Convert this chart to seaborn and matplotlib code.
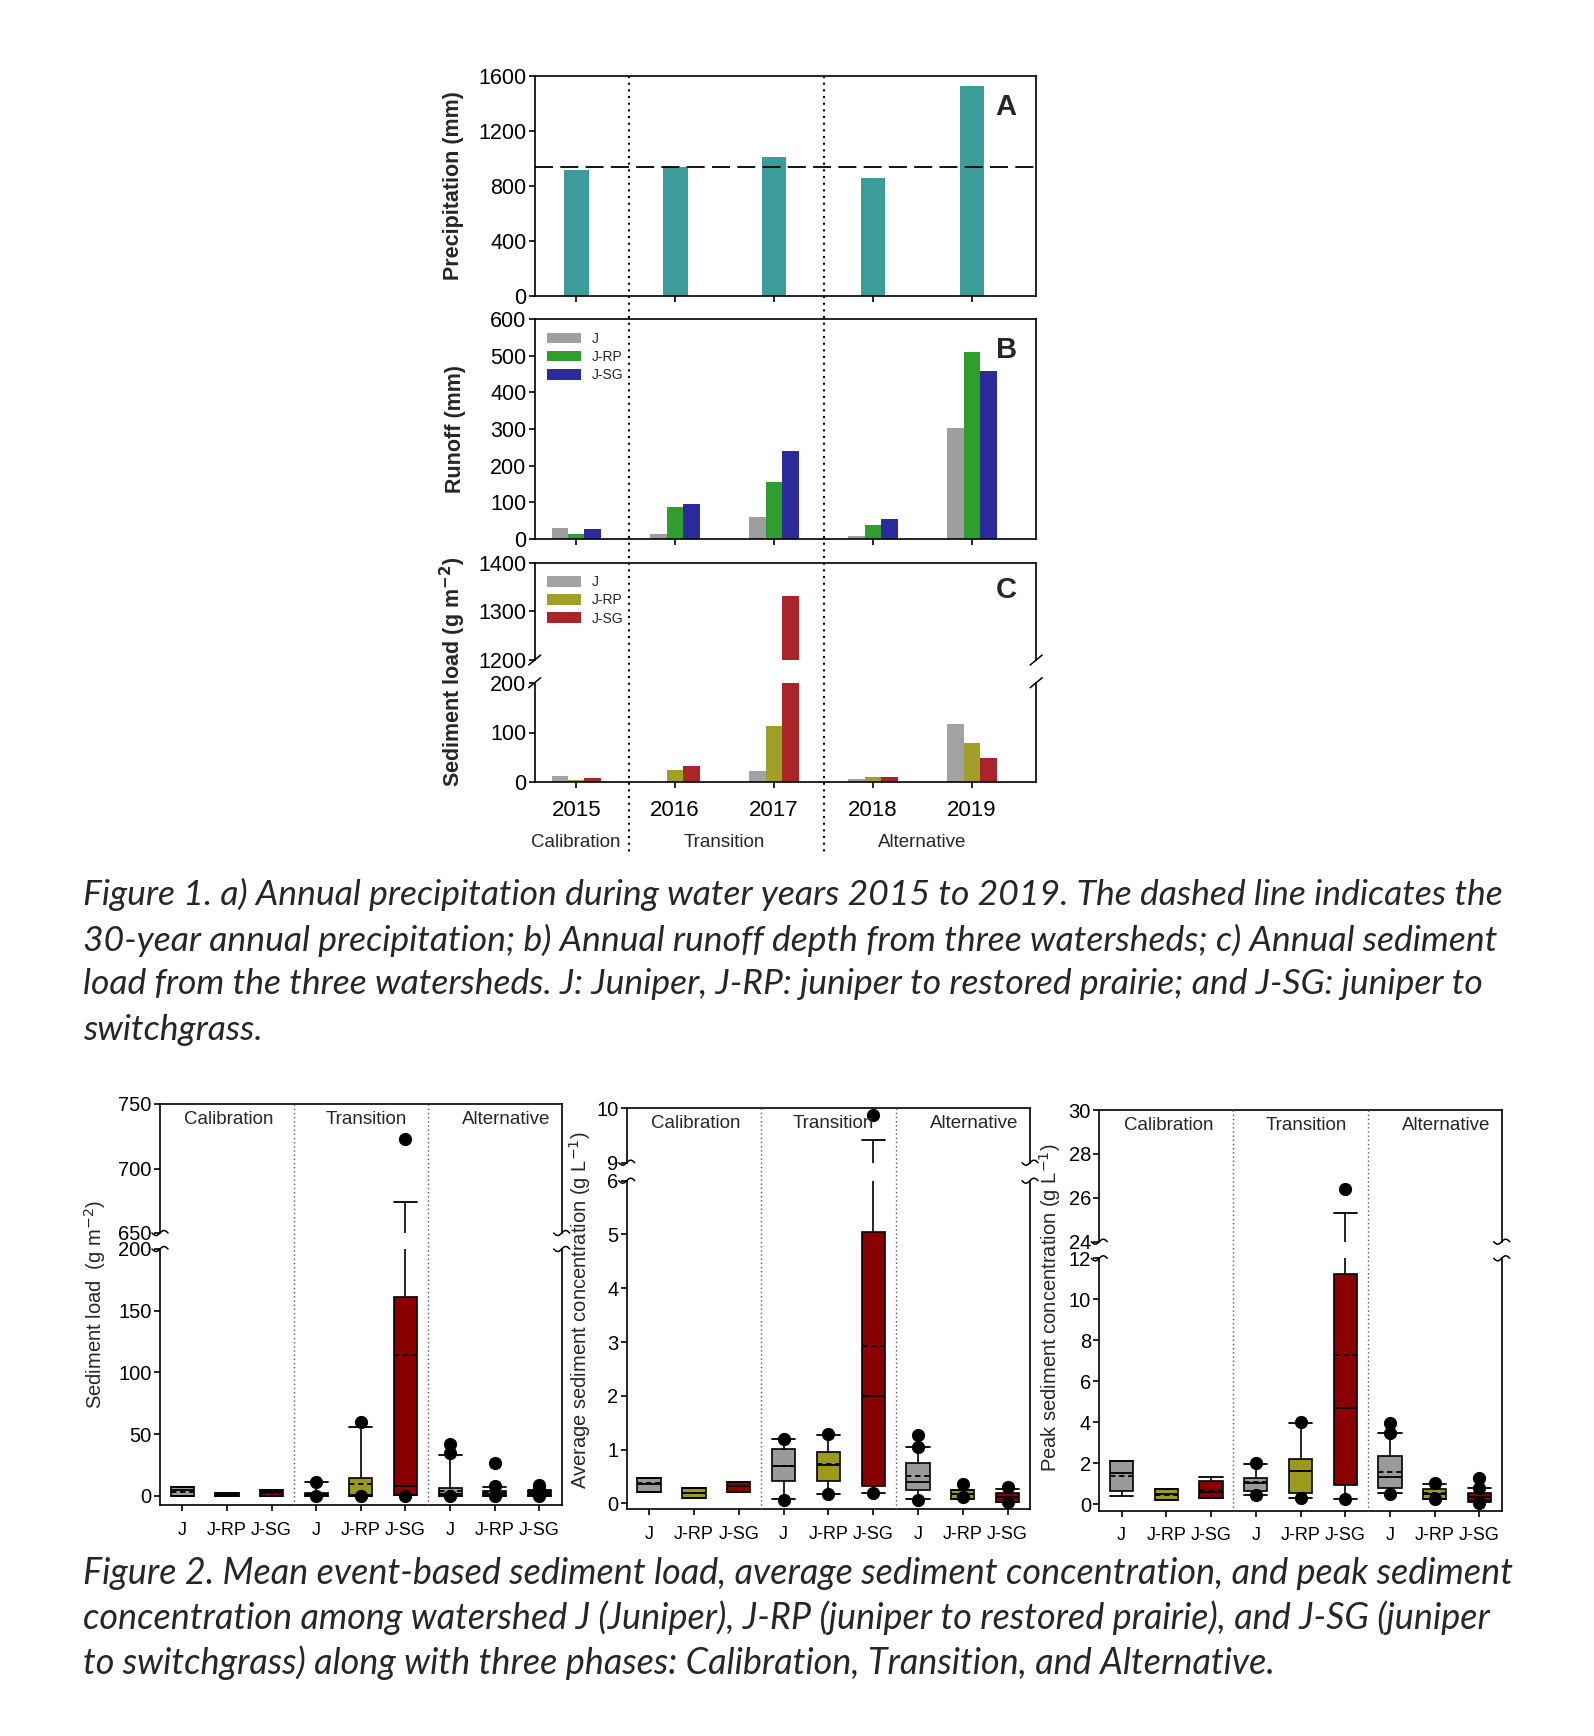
import numpy as np
import pandas as pd
import matplotlib
matplotlib.use("Agg")
import matplotlib.pyplot as plt
import matplotlib.transforms as mtransforms
from matplotlib.lines import Line2D
import seaborn as sns

# ---------------- Figure 1 data ----------------
years = ["2015", "2016", "2017", "2018", "2019"]
watersheds = ["J", "J-RP", "J-SG"]
phases = ["Calibration", "Transition", "Alternative"]

precip = [915, 939, 1010, 855, 1525]
precip_30yr = 939

runoff_j = [30, 13, 58, 7, 304]
runoff_jrp = [13, 87, 156, 37, 511]
runoff_jsg = [27, 96, 241, 54, 459]

sed_j = [13, 0, 23, 6, 117]
sed_jrp = [5, 25, 113, 10, 78]
sed_jsg = [9, 33, 1331, 10, 48]

# ---------------- Figure 2 data: box summaries (phase x watershed) ----------------
group_labels = watersheds * 3

load_q1 = [0.3, 0.2, 0.2, 0.1, 0.3, 1.0, 0.0, 0.3, 0.3]
load_med = [4.5, 1.2, 3.0, 1.0, 1.0, 8.0, 2.0, 1.5, 1.5]
load_q3 = [7.6, 2.7, 4.9, 2.7, 14.3, 161, 6.2, 4.0, 4.0]
load_mean = [3.5, 1.5, 2.5, 2.0, 9.8, 113.8, 4.0, 3.0, 2.5]
load_lo = [0.3, 0.2, 0.2, 0.1, 0.3, 0.5, 0.0, 0.3, 0.3]
load_hi = [7.6, 2.7, 4.9, 11.1, 56.2, 674, 33.0, 7.6, 4.9]
load_out = [[], [], [], [11.6, 0.0], [60.3, 0.0], [723, 0.0],
            [41.9, 35.1, 0.0], [26.5, 8.1, 0.0], [8.9, 5.4, 0.0]]

conc_q1 = [0.21, 0.10, 0.22, 0.42, 0.42, 0.32, 0.25, 0.09, 0.03]
conc_med = [0.36, 0.19, 0.32, 0.70, 0.72, 2.00, 0.40, 0.17, 0.11]
conc_q3 = [0.47, 0.28, 0.40, 1.01, 0.96, 5.05, 0.75, 0.25, 0.20]
conc_mean = [0.37, 0.19, 0.32, 0.70, 0.74, 2.92, 0.50, 0.18, 0.12]
conc_lo = [0.21, 0.10, 0.22, 0.08, 0.17, 0.19, 0.08, 0.09, 0.03]
conc_hi = [0.47, 0.28, 0.40, 1.19, 1.27, 9.42, 1.04, 0.25, 0.26]
conc_out = [[], [], [], [1.20, 0.07], [1.29, 0.17], [9.87, 0.19],
            [1.27, 1.04, 0.06], [0.36, 0.11], [0.31, 0.02]]

peak_q1 = [0.65, 0.21, 0.29, 0.65, 0.57, 0.94, 0.78, 0.26, 0.16]
peak_med = [1.51, 0.49, 0.59, 1.02, 1.63, 4.72, 1.35, 0.50, 0.34]
peak_q3 = [2.11, 0.73, 1.14, 1.30, 2.23, 11.24, 2.36, 0.75, 0.54]
peak_mean = [1.40, 0.45, 0.70, 1.07, 1.63, 7.28, 1.60, 0.55, 0.36]
peak_lo = [0.41, 0.21, 0.29, 0.46, 0.33, 0.24, 0.54, 0.26, 0.13]
peak_hi = [2.11, 0.73, 1.32, 1.97, 3.98, 25.29, 3.46, 0.98, 0.78]
peak_out = [[], [], [], [2.02, 0.46], [4.02, 0.29], [26.38, 0.24],
            [3.98, 3.5, 0.5], [1.02, 0.26], [1.27, 0.78, 0.05]]

caption1 = [
    "Figure 1. a) Annual precipitation during water years 2015 to 2019. The dashed line indicates the",
    "30-year annual precipitation; b) Annual runoff depth from three watersheds; c) Annual sediment",
    "load from the three watersheds. J: Juniper, J-RP: juniper to restored prairie; and J-SG: juniper to",
    "switchgrass.",
]
caption2 = [
    "Figure 2. Mean event-based sediment load, average sediment concentration, and peak sediment",
    "concentration among watershed J (Juniper), J-RP (juniper to restored prairie), and J-SG (juniper",
    "to switchgrass) along with three phases: Calibration, Transition, and Alternative.",
]

# ---------------- style ----------------
sns.set_style("ticks")
plt.rcParams["font.family"] = ["Liberation Sans", "DejaVu Sans"]
plt.rcParams.update({
    "axes.linewidth": 1.2, "axes.edgecolor": "black",
    "xtick.color": "black", "ytick.color": "black",
    "xtick.major.width": 1.2, "ytick.major.width": 1.2,
    "xtick.major.size": 4, "ytick.major.size": 4,
    "ytick.major.pad": 2,
})

W, H = 1594, 1736
fig = plt.figure(figsize=(W / 100, H / 100), dpi=100)


def add_axes(x0, x1, y0, y1):
    return fig.add_axes([x0 / W, 1 - y1 / H, (x1 - x0) / W, (y1 - y0) / H])


def fig_vline(ax, xv, y0, y1, **kw):
    xd = ax.transData.transform((xv, 0))[0] / W
    fig.add_artist(Line2D([xd, xd], [1 - y0 / H, 1 - y1 / H], transform=fig.transFigure, **kw))


def mark(ax, xa, ya, xs, ys):
    tr = mtransforms.ScaledTranslation(xa, ya, ax.transAxes)
    fig.add_artist(Line2D(xs, ys, transform=tr, color="black", lw=1.1, clip_on=False))


def long_df(a, b, c):
    return pd.DataFrame({"year": years * 3,
                         "watershed": [w for w in watersheds for _ in years],
                         "value": a + b + c})


# ================= Figure 1 =================
XL = (-0.42, 4.65)
TOP_X0, TOP_X1 = 534.7, 1036.2
runoff_colors = ["#9e9e9e", "#2f9e2f", "#2b2b9c"]
sed_colors = ["#a2a2a2", "#a09f2a", "#a8262a"]

# A: precipitation
axA = add_axes(TOP_X0, TOP_X1, 75.7, 296)
sns.barplot(x=years, y=precip, color="#3b9c9a", width=0.25, saturation=1,
            linewidth=0, errorbar=None, ax=axA)
axA.axhline(precip_30yr, color="black", lw=1.3, dashes=(10, 4))
axA.set_ylim(0, 1600)
axA.set_yticks([0, 400, 800, 1200, 1600])

# B: runoff
axB = add_axes(TOP_X0, TOP_X1, 319.3, 538.7)
sns.barplot(data=long_df(runoff_j, runoff_jrp, runoff_jsg), x="year", y="value",
            hue="watershed", palette=runoff_colors, width=0.5, saturation=1,
            linewidth=0, errorbar=None, ax=axB)
axB.set_ylim(0, 600)
axB.set_yticks(range(0, 601, 100))

# C: sediment load, broken axis
sed_df = long_df(sed_j, sed_jrp, sed_jsg)
axCu = add_axes(TOP_X0, TOP_X1, 562.7, 660)
axCl = add_axes(TOP_X0, TOP_X1, 682.7, 782.3)
for ax in (axCu, axCl):
    sns.barplot(data=sed_df, x="year", y="value", hue="watershed", palette=sed_colors,
                width=0.5, saturation=1, linewidth=0, errorbar=None, ax=ax,
                legend=(ax is axCu))
axCu.set_ylim(1200, 1400)
axCu.set_yticks([1200, 1300, 1400])
axCl.set_ylim(0, 200)
axCl.set_yticks([0, 100, 200])
axCu.spines["bottom"].set_visible(False)
axCl.spines["top"].set_visible(False)
axCu.tick_params(axis="x", bottom=False, labelbottom=False)

for ax in (axA, axB, axCu, axCl):
    ax.set_xlim(*XL)
    ax.set_xlabel("")
    ax.set_ylabel("")
    ax.tick_params(axis="y", labelsize=15.5)
for ax in (axA, axB):
    ax.set_xticks(range(5))
    ax.set_xticklabels([])
axCl.set_xticks(range(5))
axCl.set_xticklabels(years)
axCl.tick_params(axis="x", labelsize=16, pad=9)

for ax in (axB, axCu):
    sns.move_legend(ax, "upper left", bbox_to_anchor=(0.0, 1.0), title=None,
                    frameon=False, fontsize=10, handlelength=2.4, handleheight=0.8,
                    labelspacing=0.3, borderaxespad=0.5)

# break slashes on panel C
for ax, ya in ((axCu, 0), (axCl, 1)):
    for xa in (0, 1):
        mark(ax, xa, ya, [-6, 6], [-5, 5])

# panel letters
for ax, letter in ((axA, "A"), (axB, "B"), (axCu, "C")):
    ax.text(0.94, 0.86 if ax is not axCu else 0.72, letter, transform=ax.transAxes,
            fontsize=21, fontweight="bold", ha="center", va="center")

# y labels
fig.text(453 / W, 1 - 186 / H, "Precipitation (mm)", rotation=90, fontsize=15.5,
         fontweight="bold", ha="center", va="center")
fig.text(455 / W, 1 - 429 / H, "Runoff (mm)", rotation=90, fontsize=15.5,
         fontweight="bold", ha="center", va="center")
fig.text(453 / W, 1 - 672 / H, "Sediment load (g m$^{\\mathbf{-2}}$)", rotation=90,
         fontsize=15.5, fontweight="bold", ha="center", va="center")

# phase separators and phase names
for xv in (0.53, 2.5):
    fig_vline(axA, xv, 75.7, 853, color="black", lw=1.5, ls=(0, (1, 2.2)))
for xv, name in zip((0.0, 1.5, 3.5), phases):
    axCl.annotate(name, xy=(xv, 0), xycoords=axCl.get_xaxis_transform(),
                  xytext=(0, -43), textcoords="offset points",
                  ha="center", va="center", fontsize=13.5)

# ================= Figure 2 =================
box_colors = ["#9a9a9a", "#9c9a1c", "#8a0000"]
phase_label_x = [1.05, 4.12, 7.25]


def box_stats(q1, med, q3, lo, hi, mean, out):
    return [dict(q1=a, med=b, q3=c, whislo=d, whishi=e, mean=f, fliers=g)
            for a, b, c, d, e, f, g in zip(q1, med, q3, lo, hi, mean, out)]


def draw_boxes(ax, stats):
    bp = ax.bxp(stats, positions=range(9), widths=0.52, capwidths=0.52,
                patch_artist=True, showmeans=True, meanline=True, manage_ticks=False,
                boxprops=dict(edgecolor="black", linewidth=1.2),
                medianprops=dict(color="black", linewidth=1.3),
                meanprops=dict(color="black", linewidth=1.3, linestyle=(0, (3, 2))),
                whiskerprops=dict(color="black", linewidth=1.2),
                capprops=dict(color="black", linewidth=1.3),
                flierprops=dict(marker="o", markerfacecolor="black",
                                markeredgecolor="black", markersize=8.5))
    for patch, col in zip(bp["boxes"], box_colors * 3):
        patch.set_facecolor(col)


panels = [
    dict(x=(160, 561.7), up=(1104, 1233), lo=(1249, 1505),
         ylim_up=(650, 750), ylim_lo=(-7.3, 200),
         yt_up=[650, 700, 750], yt_lo=[0, 50, 100, 150, 200],
         stats=box_stats(load_q1, load_med, load_q3, load_lo, load_hi, load_mean, load_out),
         ylabel="Sediment load  (g m$^{-2}$)", lab=(95, 1305)),
    dict(x=(626.7, 1030), up=(1108.3, 1162.7), lo=(1180.7, 1509.3),
         ylim_up=(9, 10), ylim_lo=(-0.11, 6),
         yt_up=[9, 10], yt_lo=list(range(7)),
         stats=box_stats(conc_q1, conc_med, conc_q3, conc_lo, conc_hi, conc_mean, conc_out),
         ylabel="Average sediment concentration (g L$^{-1}$)", lab=(580, 1310)),
    dict(x=(1099.3, 1501.7), up=(1110, 1241.7), lo=(1258.3, 1510.7),
         ylim_up=(24, 30), ylim_lo=(-0.31, 12),
         yt_up=[24, 26, 28, 30], yt_lo=list(range(0, 13, 2)),
         stats=box_stats(peak_q1, peak_med, peak_q3, peak_lo, peak_hi, peak_mean, peak_out),
         ylabel="Peak sediment concentration (g L$^{-1}$)", lab=(1050, 1308)),
]

for p in panels:
    axu = add_axes(p["x"][0], p["x"][1], *p["up"])
    axl = add_axes(p["x"][0], p["x"][1], *p["lo"])
    for ax in (axu, axl):
        draw_boxes(ax, p["stats"])
        ax.set_xlim(-0.5, 8.5)
        ax.tick_params(axis="y", labelsize=14.5)
    axu.set_ylim(*p["ylim_up"])
    axu.set_yticks(p["yt_up"])
    axl.set_ylim(*p["ylim_lo"])
    axl.set_yticks(p["yt_lo"])
    axu.spines["bottom"].set_visible(False)
    axl.spines["top"].set_visible(False)
    axu.set_xticks([])
    axl.set_xticks(range(9))
    axl.set_xticklabels(group_labels)
    axl.tick_params(axis="x", labelsize=13, pad=8)

    # wavy break marks on both spines
    xs = np.linspace(-8, 8, 25)
    ys = 2.5 * np.sin(np.pi * xs / 8)
    for ax, ya in ((axu, 0), (axl, 1)):
        for xa in (0, 1):
            mark(ax, xa, ya, xs, ys)

    for xv in (2.5, 5.5):
        fig_vline(axl, xv, p["up"][0], p["lo"][1], color="#555555", lw=1.0,
                  ls=(0, (1, 2)))
    for xv, name in zip(phase_label_x, phases):
        axu.annotate(name, xy=(xv, 1), xycoords=axu.get_xaxis_transform(),
                     xytext=(0, -11), textcoords="offset points",
                     ha="center", va="center", fontsize=13.5)
    fig.text(p["lab"][0] / W, 1 - p["lab"][1] / H, p["ylabel"], rotation=90,
             fontsize=14.5, ha="center", va="center")


# ================= captions =================
def caption(lines, ys, target):
    texts = [fig.text(83 / W, 1 - y / H, s, fontsize=20, style="italic",
                      family=["Lato", "Open Sans", "DejaVu Sans"], ha="left", va="center")
             for s, y in zip(lines, ys)]
    r = fig.canvas.get_renderer()
    w = texts[0].get_window_extent(r).width
    for t in texts:
        t.set_fontsize(20 * target / w)


caption(caption1, [894.5, 940, 984, 1029.5], 1418)
caption(caption2, [1573, 1617.5, 1662.7], 1428)

fig.savefig("out.png", dpi=100, facecolor="white")
